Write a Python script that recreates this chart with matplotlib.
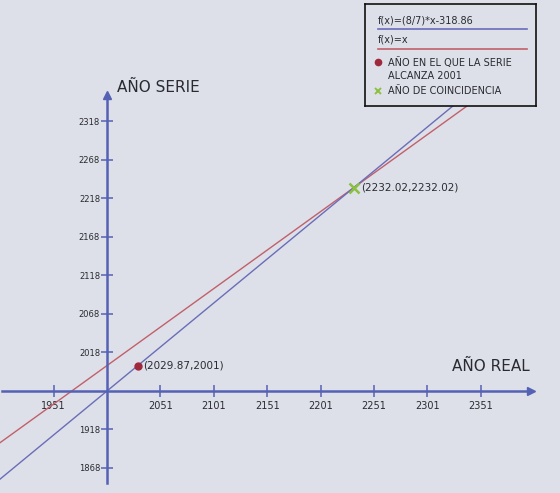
import numpy as np
import matplotlib
matplotlib.use("Agg")
import matplotlib.pyplot as plt

# === data ===
x_ticks = [1951, 2051, 2101, 2151, 2201, 2251, 2301, 2351]
y_ticks = [1868, 1918, 2018, 2068, 2118, 2168, 2218, 2268, 2318]
origin_x = 2001
origin_y = 1968

# f(x) = (8/7)*x - 318.86  and  f(x) = x
slope = 8 / 7
intercept = -318.86

# year in which the series reaches 2001
alcanza_x = 2029.87
alcanza_y = 2001
# year where both lines meet
coinc_x = 2232.02
coinc_y = 2232.02

# === colours ===
bg = '#dde0e8'
axis_col = '#5561b4'
blue_col = '#6a6db8'
red_col = '#c2606a'
dot_col = '#a0283c'
green_col = '#8cc040'
text_col = '#2a2a32'

fig = plt.figure(figsize=(5.6, 4.93), dpi=100)
fig.patch.set_facecolor(bg)
ax = fig.add_axes([0, 0, 1, 1])
ax.set_facecolor(bg)
ax.set_xlim(1900.8, 2425.2)
ax.set_ylim(1835.5, 2475.8)

# axes crossing at the origin, with arrow heads
for side in ['top', 'right']:
    ax.spines[side].set_visible(False)
ax.spines['left'].set_position(('data', origin_x))
ax.spines['bottom'].set_position(('data', origin_y))
ax.spines['left'].set_bounds(1848.5, 2350)
ax.spines['bottom'].set_bounds(1903, 2396)
for side in ['left', 'bottom']:
    ax.spines[side].set_color(axis_col)
    ax.spines[side].set_linewidth(1.8)
ax.plot(2398, origin_y, marker='>', markersize=6, color=axis_col, clip_on=False)
ax.plot(origin_x, 2352, marker='^', markersize=6, color=axis_col, clip_on=False)

ax.set_xticks(x_ticks)
ax.set_yticks(y_ticks)
ax.set_xticklabels([str(t) for t in x_ticks])
ax.set_yticklabels([str(t) for t in y_ticks])
ax.tick_params(axis='both', direction='inout', length=8, width=1.1,
               color=axis_col, labelcolor=text_col)
ax.tick_params(axis='x', labelsize=7, pad=3)
ax.tick_params(axis='y', labelsize=6, pad=1)

# the two lines, drawn up to where they go under the legend box
x_start = ax.get_xlim()[0]
y_stop = 2380
xs_red = np.array([x_start, y_stop])
xs_blue = np.array([x_start, (y_stop - intercept) / slope])
ax.plot(xs_red, xs_red, color=red_col, lw=1.0, zorder=2)
ax.plot(xs_blue, slope * xs_blue + intercept, color=blue_col, lw=1.0, zorder=2)

# marked points
ax.plot(alcanza_x, alcanza_y, marker='o', markersize=5, color=dot_col, zorder=4)
ax.annotate(f"({alcanza_x},{alcanza_y})", xy=(alcanza_x, alcanza_y),
            xytext=(4, 0), textcoords='offset points', va='center', ha='left',
            fontsize=7.5, color=text_col)
ax.plot(coinc_x, coinc_y, marker='x', markersize=7, mew=1.8, color=green_col, zorder=4)
ax.annotate(f"({coinc_x},{coinc_y})", xy=(coinc_x, coinc_y),
            xytext=(5.5, 0), textcoords='offset points', va='center', ha='left',
            fontsize=7.5, color=text_col)

# axis titles
ax.text(0.209, 0.822, 'AÑO SERIE', transform=ax.transAxes, fontsize=11,
        color=text_col, va='center', ha='left')
ax.text(0.807, 0.256, 'AÑO REAL', transform=ax.transAxes, fontsize=11,
        color=text_col, va='center', ha='left')

# hand made legend box
lax = fig.add_axes([365 / 560, 1 - 106 / 493, 171 / 560, 102 / 493])
lax.set_facecolor(bg)
lax.set_xlim(0, 171)
lax.set_ylim(102, 0)
lax.set_xticks([])
lax.set_yticks([])
for s in lax.spines.values():
    s.set_color('#111111')
    s.set_linewidth(1.2)

lax.text(13, 16.7, 'f(x)=(8/7)*x-318.86', va='center', fontsize=7, color=text_col)
lax.plot([13, 162], [25.3, 25.3], color=blue_col, lw=1.2)
lax.text(13, 36, 'f(x)=x', va='center', fontsize=7, color=text_col)
lax.plot([13, 162], [45.3, 45.3], color=red_col, lw=1.2)
lax.plot(13, 57.7, marker='o', markersize=4.5, color=dot_col)
lax.text(23, 65, 'AÑO EN EL QUE LA SERIE\nALCANZA 2001', va='center',
         fontsize=7, color=text_col, linespacing=1.35)
lax.plot(13, 86.7, marker='x', markersize=5, mew=1.4, color=green_col)
lax.text(23, 87, 'AÑO DE COINCIDENCIA', va='center', fontsize=7, color=text_col)

fig.savefig('out.png', dpi=100, facecolor=bg)
